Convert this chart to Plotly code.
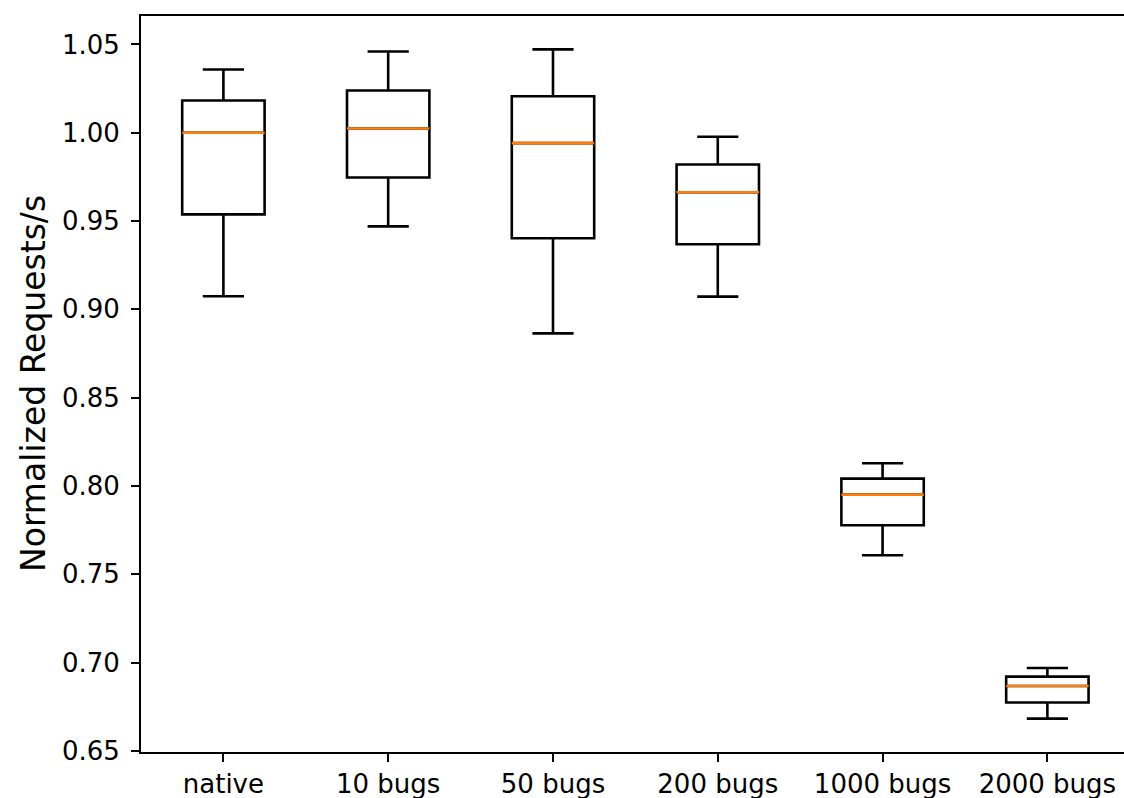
import plotly.graph_objects as go

categories = ["native", "10 bugs", "50 bugs", "200 bugs", "1000 bugs", "2000 bugs"]
lower_whisker = [0.9074, 0.9470, 0.8864, 0.9072, 0.7608, 0.6683]
q1 = [0.9538, 0.9747, 0.9403, 0.9369, 0.7778, 0.6774]
median = [1.0000, 1.0024, 0.9941, 0.9663, 0.7951, 0.6868]
q3 = [1.0183, 1.0239, 1.0207, 0.9820, 0.8042, 0.6921]
upper_whisker = [1.0358, 1.0460, 1.0472, 0.9977, 0.8129, 0.6970]
y_ticks = [0.65, 0.70, 0.75, 0.80, 0.85, 0.90, 0.95, 1.00, 1.05]

positions = list(range(len(categories)))
box_width = 0.5
lw = 2.6

fig = go.Figure()
fig.add_trace(go.Box(
    x=positions, q1=q1, median=median, q3=q3,
    lowerfence=lower_whisker, upperfence=upper_whisker,
    width=box_width, whiskerwidth=0.5,
    fillcolor="white", line=dict(color="black", width=lw),
    boxpoints=False, hoverinfo="skip", showlegend=False,
))

mx, my = [], []
for p, m in zip(positions, median):
    mx += [p - box_width / 2, p + box_width / 2, None]
    my += [m, m, None]
fig.add_trace(go.Scatter(x=mx, y=my, mode="lines",
                         line=dict(color="#ff7f0e", width=lw),
                         hoverinfo="skip", showlegend=False))

font = "DejaVu Sans"
fig.update_layout(
    width=1124, height=798,
    margin=dict(l=141, r=0, t=16, b=46),
    plot_bgcolor="white", paper_bgcolor="white",
    font=dict(family=font, color="black", size=26),
    showlegend=False,
)
fig.update_xaxes(
    range=[-0.5, 5.465], tickmode="array", tickvals=positions, ticktext=categories,
    showgrid=False, zeroline=False, showline=True, linecolor="black", linewidth=2,
    mirror=True, ticks="outside", ticklen=8, tickwidth=2, tickcolor="black",
    tickfont=dict(family=font, size=26, color="black"),
)
fig.update_yaxes(
    range=[0.6494, 1.0661], tickmode="array", tickvals=y_ticks,
    ticktext=[f"{v:.2f}" for v in y_ticks],
    showgrid=False, zeroline=False, showline=True, linecolor="black", linewidth=2,
    ticks="outside", ticklen=8, tickwidth=2, tickcolor="black",
    tickfont=dict(family=font, size=26, color="black"),
    ticklabelstandoff=6,
)
fig.add_annotation(
    text="Normalized Requests/s", textangle=-90,
    x=0, xref="paper", xanchor="center", xshift=-108,
    y=0.5, yref="paper", yanchor="middle",
    showarrow=False, font=dict(family=font, size=33, color="black"),
)

fig.write_html("out.html", config={"displayModeBar": False},
               post_script="document.body.style.margin='0';document.body.style.overflow='hidden';")
